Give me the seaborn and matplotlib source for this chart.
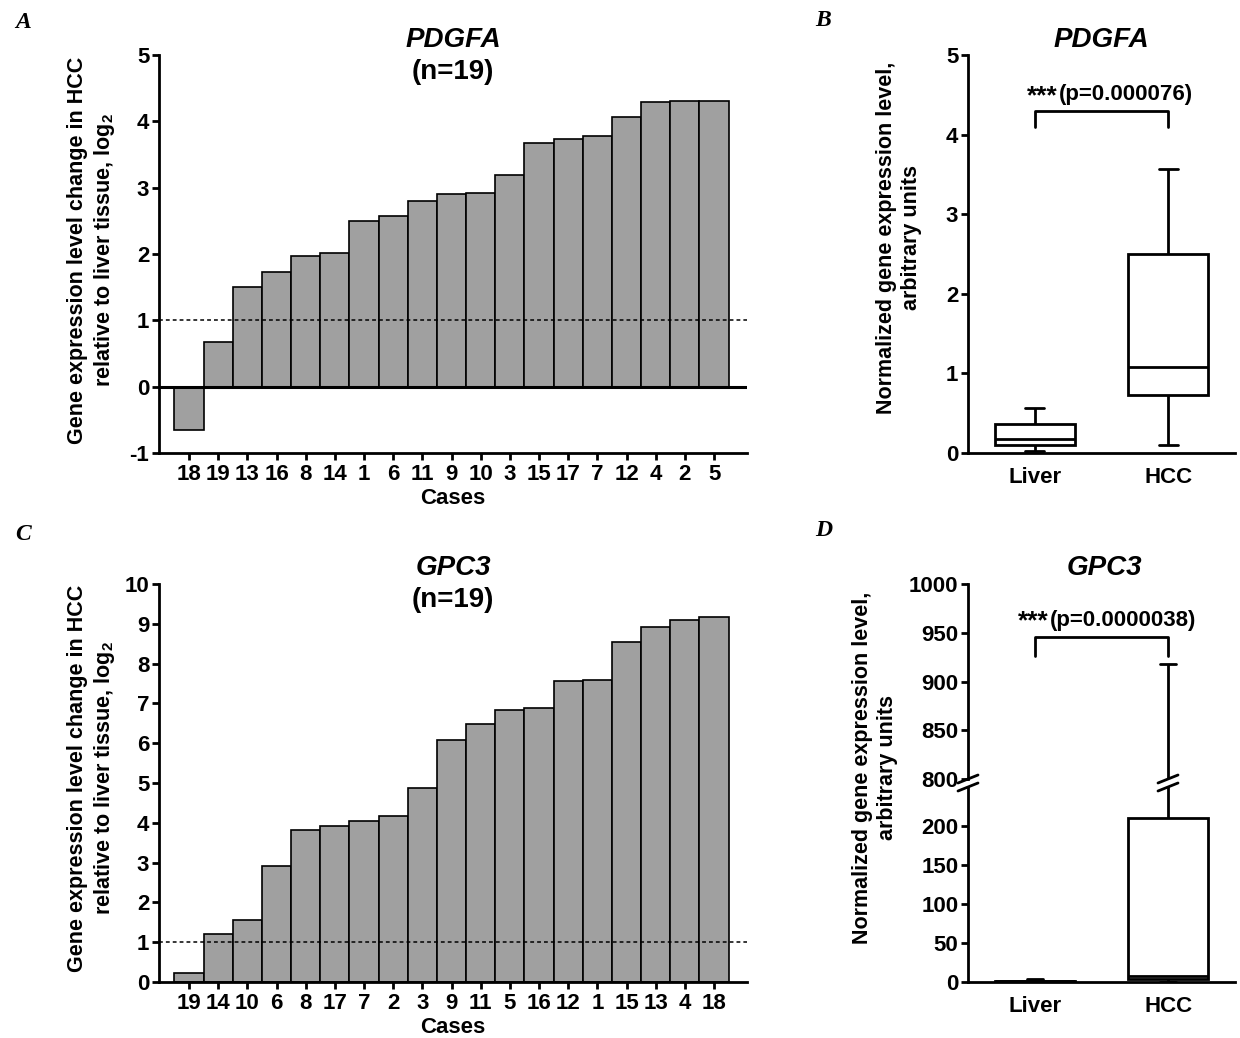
import numpy as np
import pandas as pd
import matplotlib
matplotlib.use("Agg")
import matplotlib.pyplot as plt
from matplotlib.lines import Line2D
import seaborn as sns

# ---------------- data ----------------
cases_a = ['18', '19', '13', '16', '8', '14', '1', '6', '11', '9', '10', '3',
           '15', '17', '7', '12', '4', '2', '5']
values_a = [-0.65, 0.67, 1.51, 1.73, 1.97, 2.01, 2.50, 2.58, 2.80, 2.90, 2.92,
            3.19, 3.67, 3.73, 3.78, 4.07, 4.29, 4.30, 4.31]

cases_c = ['19', '14', '10', '6', '8', '17', '7', '2', '3', '9', '11', '5',
           '16', '12', '1', '15', '13', '4', '18']
values_c = [0.23, 1.20, 1.55, 2.91, 3.81, 3.91, 4.05, 4.16, 4.87, 6.08, 6.47,
            6.83, 6.89, 7.57, 7.59, 8.54, 8.93, 9.10, 9.18]

groups = ['Liver', 'HCC']
# five-number summaries: min, Q1, median, Q3, max
pdgfa_liver = [0.02, 0.10, 0.17, 0.36, 0.56]
pdgfa_hcc = [0.10, 0.73, 1.08, 2.50, 3.57]
gpc3_liver = [0.1, 0.5, 1.0, 1.6, 3.5]
gpc3_hcc = [0.5, 4.0, 8.0, 210.0, 918.0]

p_text_b = '(p=0.000076)'
p_text_d = '(p=0.0000038)'

# ---------------- style ----------------
sns.set_style("ticks")
plt.rcParams['font.family'] = ['Liberation Sans', 'DejaVu Sans']
plt.rcParams['font.weight'] = 'bold'
plt.rcParams['axes.labelweight'] = 'bold'
plt.rcParams['axes.unicode_minus'] = False
plt.rcParams['text.color'] = 'black'
plt.rcParams['axes.labelcolor'] = 'black'
plt.rcParams['xtick.color'] = 'black'
plt.rcParams['ytick.color'] = 'black'
plt.rcParams['mathtext.fontset'] = 'custom'
plt.rcParams['mathtext.rm'] = 'Liberation Sans:bold'
plt.rcParams['mathtext.bf'] = 'Liberation Sans:bold'
plt.rcParams['xtick.labelsize'] = 16
plt.rcParams['ytick.labelsize'] = 16

W, H = 1240, 1038
fig = plt.figure(figsize=(W / 100, H / 100), dpi=100)


def px_axes(l, t, r, b):
    return fig.add_axes([l / W, 1 - b / H, (r - l) / W, (b - t) / H])


def ftext(x, y, s, **kw):
    fig.text(x / W, 1 - y / H, s, **kw)


def style_axes(ax):
    sns.despine(ax=ax)
    for sp in ['left', 'bottom']:
        ax.spines[sp].set_linewidth(2)
        ax.spines[sp].set_color('black')
    ax.tick_params(axis='y', direction='out', length=5, width=2, pad=2, colors='black')
    ax.tick_params(axis='x', direction='out', length=5, width=2, pad=3, colors='black')
    ax.set_xlabel('')
    ax.set_ylabel('')
    for lab in ax.get_xticklabels() + ax.get_yticklabels():
        lab.set_fontweight('bold')


def bar_panel(ax, cases, values, ylim, yticks):
    df = pd.DataFrame({'case': cases, 'value': values})
    sns.barplot(data=df, x='case', y='value', order=cases, color='#a0a0a0',
                edgecolor='black', linewidth=1.2, width=1.0, saturation=1,
                ax=ax, zorder=2)
    ax.set_xlim(-1.03, 19.13)
    ax.set_ylim(*ylim)
    ax.set_yticks(yticks)
    ax.axhline(1, color='black', lw=1.1, ls=(0, (2.5, 2)), zorder=3)
    style_axes(ax)
    ax.set_xlabel('Cases', fontsize=16, fontweight='bold', labelpad=2)


def box_panel(ax, liver, hcc, cap=0.14):
    df = pd.DataFrame({'group': ['Liver'] * len(liver) + ['HCC'] * len(hcc),
                       'value': liver + hcc})
    sns.boxplot(data=df, x='group', y='value', order=groups, whis=(0, 100),
                width=0.6, color='white', linecolor='black', linewidth=2,
                fliersize=0, saturation=1, ax=ax)
    # shorten whisker caps (horizontal lines narrower than the box)
    for ln in ax.lines:
        xd = np.asarray(ln.get_xdata(), dtype=float)
        yd = np.asarray(ln.get_ydata(), dtype=float)
        if len(xd) == 2 and yd[0] == yd[1] and 0 < abs(xd[1] - xd[0]) < 0.5:
            c = xd.mean()
            ln.set_xdata([c - cap / 2, c + cap / 2])
    ax.set_xlim(-0.5, 1.5)


def p_label(ax, x, y, text):
    ax.annotate('***', xy=(x, y), xycoords='data', xytext=(0, -1),
                textcoords='offset points', ha='right', va='center',
                fontsize=19, fontweight='bold')
    ax.annotate(text, xy=(x, y), xycoords='data', xytext=(1, 0),
                textcoords='offset points', ha='left', va='center',
                fontsize=16, fontweight='bold')


# ---------------- Panel A ----------------
axA = px_axes(159, 55, 747, 453)
bar_panel(axA, cases_a, values_a, (-1, 5), range(-1, 6))
axA.axhline(0, color='black', lw=2.2, zorder=4)

# ---------------- Panel C ----------------
axC = px_axes(159, 584, 747, 982)
bar_panel(axC, cases_c, values_c, (0, 10), range(0, 11))

ylab_bar = 'Gene expression level change in HCC\nrelative to liver tissue, log$_{2}$'
for yc in (250, 778):
    ftext(92, yc, ylab_bar, rotation=90, ha='center', va='center',
          fontsize=15.5, fontweight='bold', linespacing=1.2,
          multialignment='center')

for y0, lines in [(0, ['PDGFA', '(n=19)']), (528, ['GPC3', '(n=19)'])]:
    ftext(453, y0 + 40, lines[0], ha='center', va='center', fontsize=20,
          fontweight='bold', style='italic')
    ftext(453, y0 + 72, lines[1], ha='center', va='center', fontsize=20,
          fontweight='bold')

# ---------------- Panel B ----------------
axB = px_axes(968, 55, 1235, 453)
box_panel(axB, pdgfa_liver, pdgfa_hcc)
axB.set_ylim(0, 5)
axB.set_yticks(range(0, 6))
style_axes(axB)
axB.tick_params(axis='x', length=0, pad=10)
axB.plot([0, 0, 1, 1], [4.09, 4.30, 4.30, 4.09], color='black', lw=2)
p_label(axB, 0.17, 4.50, p_text_b)
ftext(1101, 40, 'PDGFA', ha='center', va='center', fontsize=20,
      fontweight='bold', style='italic')

ylab_box = 'Normalized gene expression level,\narbitrary units'
ftext(899, 238, ylab_box, rotation=90, ha='center', va='center', fontsize=15.5,
      fontweight='bold', linespacing=1.2, multialignment='center')

# ---------------- Panel D (broken axis) ----------------
axDb = px_axes(968, 787, 1235, 982)
axDt = px_axes(968, 584, 1235, 779)
for ax in (axDb, axDt):
    box_panel(ax, gpc3_liver, gpc3_hcc, cap=0.12)
axDb.set_ylim(0, 250)
axDb.set_yticks([0, 50, 100, 150, 200])
style_axes(axDb)
axDb.tick_params(axis='x', length=0, pad=10)
axDt.set_ylim(800, 1000)
axDt.set_yticks([800, 850, 900, 950, 1000])
style_axes(axDt)
axDt.spines['bottom'].set_visible(False)
axDt.tick_params(axis='x', length=0, labelbottom=False)
axDt.plot([0, 0, 1, 1], [926, 946, 946, 926], color='black', lw=2)
p_label(axDt, 0.105, 963, p_text_d)
ftext(1104, 568, 'GPC3', ha='center', va='center', fontsize=20,
      fontweight='bold', style='italic')
ftext(875, 768, ylab_box, rotation=90, ha='center', va='center', fontsize=15.5,
      fontweight='bold', linespacing=1.2, multialignment='center')

# break marks on the axis and on the whisker
for xc in (968, 1168):
    for yc in (779, 787):
        fig.add_artist(Line2D([(xc - 10) / W, (xc + 10) / W],
                              [1 - (yc + 4) / H, 1 - (yc - 4) / H],
                              color='black', lw=2))

# ---------------- panel letters ----------------
for s, x, y in [('A', 15, 22), ('B', 815, 20), ('C', 15, 535), ('D', 815, 530)]:
    ftext(x, y, s, ha='left', va='center', fontsize=17, fontweight='bold',
          style='italic', family=['Liberation Serif', 'DejaVu Serif'])

fig.savefig('out.png', dpi=100, facecolor='white')
